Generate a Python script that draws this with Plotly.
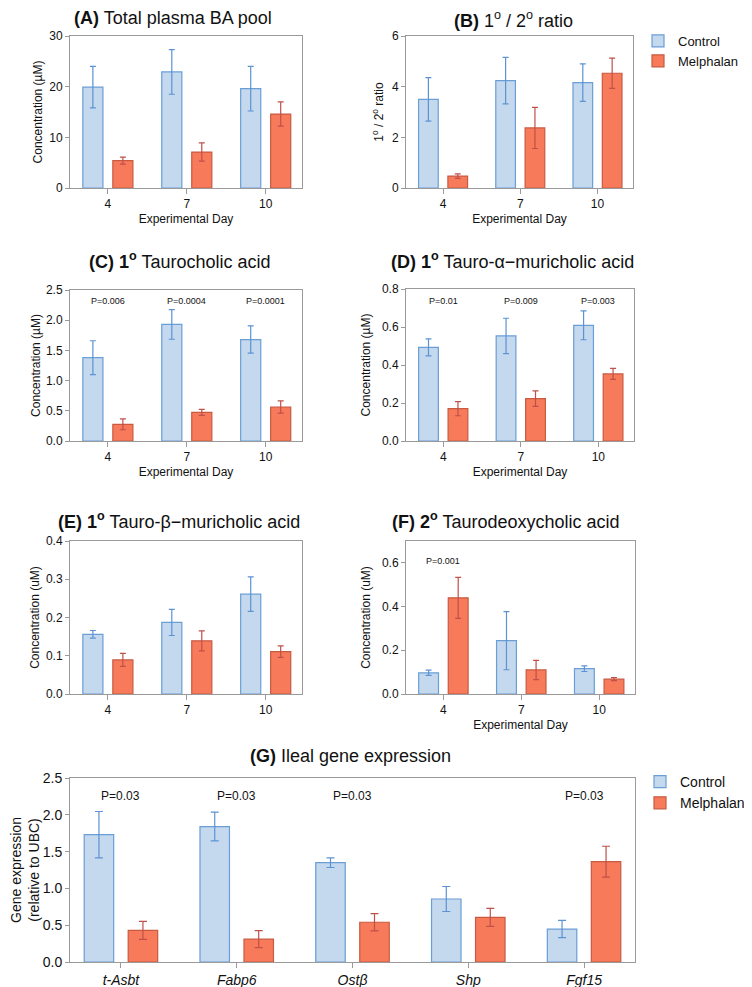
import plotly.graph_objects as go

# ---------------- data ----------------
days = ["4", "7", "10"]

A_ctrl = [19.9, 22.9, 19.6]
A_ctrl_err = [4.1, 4.4, 4.4]
A_mel = [5.4, 7.1, 14.6]
A_mel_err = [0.7, 1.8, 2.4]

B_ctrl = [3.50, 4.24, 4.16]
B_ctrl_err = [0.86, 0.92, 0.74]
B_mel = [0.47, 2.37, 4.53]
B_mel_err = [0.09, 0.81, 0.60]

C_ctrl = [1.38, 1.93, 1.68]
C_ctrl_err = [0.28, 0.245, 0.225]
C_mel = [0.276, 0.475, 0.563]
C_mel_err = [0.09, 0.05, 0.10]
C_p = ["P=0.006", "P=0.0004", "P=0.0001"]

D_ctrl = [0.493, 0.553, 0.609]
D_ctrl_err = [0.045, 0.093, 0.076]
D_mel = [0.170, 0.223, 0.353]
D_mel_err = [0.037, 0.041, 0.029]
D_p = ["P=0.01", "P=0.009", "P=0.003"]

E_ctrl = [0.156, 0.187, 0.261]
E_ctrl_err = [0.010, 0.034, 0.045]
E_mel = [0.089, 0.139, 0.111]
E_mel_err = [0.017, 0.026, 0.015]

F_ctrl = [0.097, 0.244, 0.116]
F_ctrl_err = [0.012, 0.133, 0.013]
F_mel = [0.440, 0.110, 0.068]
F_mel_err = [0.094, 0.044, 0.007]
F_p = ["P=0.001", "", ""]

genes = ["t-Asbt", "Fabp6", "Ostβ", "Shp", "Fgf15"]
G_ctrl = [1.73, 1.84, 1.35, 0.856, 0.448]
G_ctrl_err = [0.315, 0.195, 0.066, 0.17, 0.118]
G_mel = [0.43, 0.31, 0.54, 0.607, 1.363]
G_mel_err = [0.123, 0.115, 0.117, 0.122, 0.21]
G_p = ["P=0.03", "P=0.03", "P=0.03", "", "P=0.03"]

# ---------------- style ----------------
PAGE_W, PAGE_H = 752, 987
OFF = 8  # default page body margin
W, H = PAGE_W - OFF, PAGE_H - OFF
FONT = "Liberation Sans, Arial, Helvetica, sans-serif"
CTRL_FILL, CTRL_LINE, CTRL_ERR = "#c4d8ee", "#6a9ed6", "#5b93d3"
MEL_FILL, MEL_LINE, MEL_ERR = "#f77b5a", "#c85a42", "#c0504a"
FRAME = "#9a9a9a"


def px(x):
    return (x - OFF) / W


def py(y):
    return 1 - (y - OFF) / H


def dx(a, b):
    return [px(a), px(b)]


def dy(top, bottom):
    return [py(bottom), py(top)]


panels = [
    dict(key="A", cats=days, ctrl=A_ctrl, ce=A_ctrl_err, mel=A_mel, me=A_mel_err, p=None,
         xd=dx(70, 302), yd=dy(36, 188), yr=[0, 30], tv=[0, 10, 20, 30], fmt="d",
         ytitle="Concentration (µM)", xtitle="Experimental Day", so=4,
         title="<b>(A)</b> Total plasma BA pool", tx=173, ty=18, legend=None, pyd=None),
    dict(key="B", cats=days, ctrl=B_ctrl, ce=B_ctrl_err, mel=B_mel, me=B_mel_err, p=None,
         xd=dx(406, 633), yd=dy(36, 188), yr=[0, 6], tv=[0, 2, 4, 6], fmt="d",
         ytitle="1<sup>o</sup> / 2<sup>o</sup> ratio", xtitle="Experimental Day", so=5,
         title="<b>(B)</b> 1<sup>o</sup> / 2<sup>o</sup> ratio", tx=514, ty=19, legend="legend", pyd=None),
    dict(key="C", cats=days, ctrl=C_ctrl, ce=C_ctrl_err, mel=C_mel, me=C_mel_err, p=C_p,
         xd=dx(70, 302), yd=dy(290, 441), yr=[0, 2.5], tv=[0, 0.5, 1, 1.5, 2, 2.5], fmt=".1f",
         ytitle="Concentration (µM)", xtitle="Experimental Day", so=2,
         title="<b>(C) 1<sup>o</sup></b> Taurocholic acid", tx=179, ty=260, legend=None, pyd=0.928),
    dict(key="D", cats=days, ctrl=D_ctrl, ce=D_ctrl_err, mel=D_mel, me=D_mel_err, p=D_p,
         xd=dx(406, 634), yd=dy(289, 441), yr=[0, 0.8], tv=[0, 0.2, 0.4, 0.6, 0.8], fmt=".1f",
         ytitle="Concentration (µM)", xtitle="Experimental Day", so=8,
         title="<b>(D) 1<sup>o</sup></b> Tauro-α−muricholic acid", tx=513, ty=260, legend=None, pyd=0.92),
    dict(key="E", cats=days, ctrl=E_ctrl, ce=E_ctrl_err, mel=E_mel, me=E_mel_err, p=None,
         xd=dx(70, 302), yd=dy(541, 694), yr=[0, 0.4], tv=[0, 0.1, 0.2, 0.3, 0.4], fmt=".1f",
         ytitle="Concentration (uM)", xtitle=None, so=3,
         title="<b>(E) 1<sup>o</sup></b> Tauro-β−muricholic acid", tx=179, ty=520, legend=None, pyd=None),
    dict(key="F", cats=days, ctrl=F_ctrl, ce=F_ctrl_err, mel=F_mel, me=F_mel_err, p=F_p,
         xd=dx(406, 635), yd=dy(541, 694), yr=[0, 0.7], tv=[0, 0.2, 0.4, 0.6], fmt=".1f",
         ytitle="Concentration (uM)", xtitle="Experimental Day", so=8,
         title="<b>(F) 2<sup>o</sup></b> Taurodeoxycholic acid", tx=506, ty=520, legend=None, pyd=0.871),
    dict(key="G", cats=genes, ctrl=G_ctrl, ce=G_ctrl_err, mel=G_mel, me=G_mel_err, p=G_p,
         xd=dx(70, 635), yd=dy(778, 962), yr=[0, 2.5], tv=[0, 0.5, 1, 1.5, 2, 2.5], fmt=".1f",
         ytitle="Gene expression<br>(relative to UBC)", xtitle=None, so=8,
         title="<b>(G)</b> Ileal gene expression", tx=350, ty=756, legend="legend2", pyd=0.9),
]

fig = go.Figure()
annotations = []
layout_axes = {}

for i, pn in enumerate(panels):
    n = i + 1
    xa = "x" if n == 1 else f"x{n}"
    ya = "y" if n == 1 else f"y{n}"
    big = pn["key"] == "G"
    cap = 4 if big else 3
    for name, vals, errs, fill, line, ecol in [
        ("Control", pn["ctrl"], pn["ce"], CTRL_FILL, CTRL_LINE, CTRL_ERR),
        ("Melphalan", pn["mel"], pn["me"], MEL_FILL, MEL_LINE, MEL_ERR),
    ]:
        fig.add_trace(go.Bar(
            x=pn["cats"], y=vals, name=name, xaxis=xa, yaxis=ya,
            marker=dict(color=fill, line=dict(color=line, width=1.2)),
            error_y=dict(type="data", array=errs, visible=True, color=ecol,
                         thickness=1.2, width=cap),
            showlegend=pn["legend"] is not None,
            legend=pn["legend"] if pn["legend"] else "legend",
        ))
    ncat = len(pn["cats"])
    pad = 0.44 if big else 0.48
    tick_sz = 14 if big else 12
    xax = dict(
        domain=pn["xd"], anchor=ya, type="category", automargin=False,
        range=[-pad, ncat - 1 + pad - (0 if big else 0.02)],
        showline=True, mirror=True, linecolor=FRAME, linewidth=1,
        ticks="outside", ticklen=5, tickcolor=FRAME,
        tickfont=dict(family=FONT, size=tick_sz, color="#111",
                      style="italic" if big else "normal"),
        showgrid=False, zeroline=False, fixedrange=True,
    )
    if pn["xtitle"]:
        xax["title"] = dict(text=pn["xtitle"], font=dict(family=FONT, size=12, color="#111"),
                            standoff=4)
    layout_axes["xaxis" if n == 1 else f"xaxis{n}"] = xax
    layout_axes["yaxis" if n == 1 else f"yaxis{n}"] = dict(
        domain=pn["yd"], anchor=xa, range=pn["yr"], tickvals=pn["tv"],
        tickformat=pn["fmt"], automargin=False,
        showline=True, mirror=True, linecolor=FRAME, linewidth=1,
        ticks="outside", ticklen=4, tickcolor=FRAME,
        tickfont=dict(family=FONT, size=14 if big else 12, color="#111"),
        title=dict(text=pn["ytitle"], font=dict(family=FONT, size=14 if big else 12, color="#111"),
                   standoff=pn["so"]),
        showgrid=False, zeroline=False, fixedrange=True,
    )
    annotations.append(dict(
        text=pn["title"], x=px(pn["tx"]), y=py(pn["ty"]), xref="paper", yref="paper",
        xanchor="center", yanchor="middle", showarrow=False,
        font=dict(family=FONT, size=18, color="#111"),
    ))
    if pn["p"]:
        for j, txt in enumerate(pn["p"]):
            if txt:
                annotations.append(dict(
                    text=txt, x=j, y=pn["pyd"], xref=xa, yref=f"{ya} domain",
                    xanchor="center", yanchor="middle", showarrow=False,
                    font=dict(family=FONT, size=12 if big else 9, color="#111"),
                ))

fig.update_layout(
    width=W, height=H,
    margin=dict(l=0, r=0, t=0, b=0, autoexpand=False),
    paper_bgcolor="white", plot_bgcolor="white",
    barmode="group", bargap=0.24, bargroupgap=0.33,
    font=dict(family=FONT, color="#111"),
    annotations=annotations,
    legend=dict(x=px(638), y=py(26), xanchor="left", yanchor="top",
                font=dict(family=FONT, size=13, color="#111"),
                bgcolor="rgba(0,0,0,0)", tracegroupgap=0, itemwidth=30),
    legend2=dict(x=px(640), y=py(766), xanchor="left", yanchor="top",
                 font=dict(family=FONT, size=14, color="#111"),
                 bgcolor="rgba(0,0,0,0)", tracegroupgap=0, itemwidth=30),
    **layout_axes,
)

fig.write_html("out.html")
